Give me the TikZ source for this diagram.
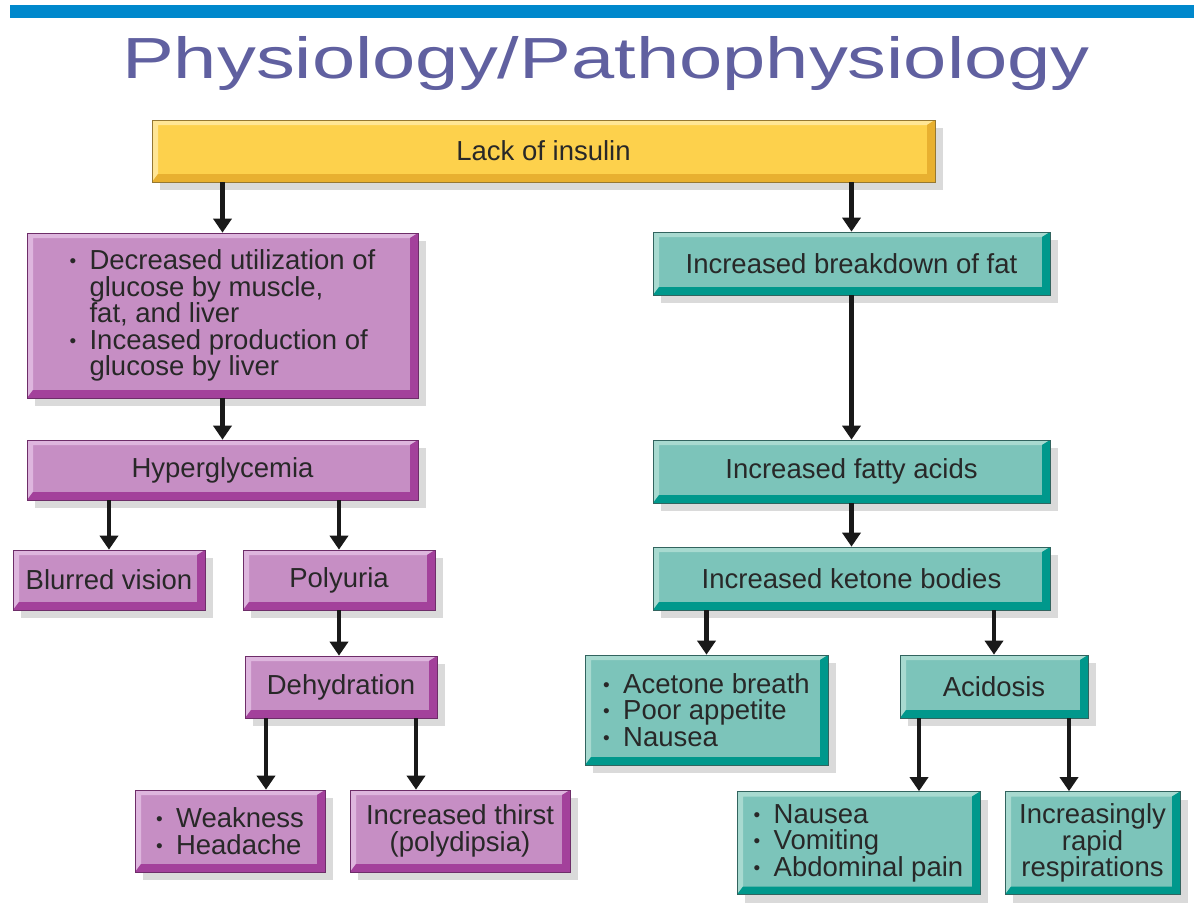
\documentclass[tikz,border=0pt]{standalone}
\usepackage{fontspec}
\setmainfont{Liberation Sans}
\usetikzlibrary{arrows.meta,shadows,calc}

\definecolor{barblue}{RGB}{0,136,204}
\definecolor{titleblue}{RGB}{96,96,160}
\definecolor{textgray}{RGB}{40,40,40}
\definecolor{shadowgray}{RGB}{218,218,218}
\definecolor{ymain}{RGB}{253,209,76}
\definecolor{ylight}{RGB}{255,230,150}
\definecolor{ydark}{RGB}{232,176,48}
\definecolor{yedge}{RGB}{150,120,50}
\definecolor{pmain}{RGB}{198,142,196}
\definecolor{plight}{RGB}{222,182,222}
\definecolor{pdark}{RGB}{163,65,155}
\definecolor{pedge}{RGB}{110,45,105}
\definecolor{tmain}{RGB}{124,196,186}
\definecolor{tlight}{RGB}{168,218,208}
\definecolor{tdark}{RGB}{0,152,140}
\definecolor{tedge}{RGB}{50,100,95}

\newcommand{\bul}{\makebox[20pt][l]{\raisebox{2pt}{\fontsize{19}{19}\selectfont•}}}
\newcommand{\ind}{\hspace*{20pt}}

\tikzset{
  bevel/.style n args={4}{
    draw=#4, line width=0.7pt, fill=#1, inner sep=0pt, text=textgray,
    font=\fontsize{27.5}{26.5}\selectfont,
    drop shadow={shadow xshift=8pt, shadow yshift=-8pt, fill=shadowgray, opacity=1},
    path picture={
      \coordinate (bsw) at (path picture bounding box.south west);
      \coordinate (bne) at (path picture bounding box.north east);
      \fill[#2] (bsw) -- (bsw |- bne) -- (bne) -- ($(bne)+(-8pt,-5pt)$)
        -- ($(bsw |- bne)+(6pt,-5pt)$) -- ($(bsw)+(6pt,8pt)$) -- cycle;
      \fill[#3] (bsw) -- (bne |- bsw) -- (bne) -- ($(bne)+(-8pt,-5pt)$)
        -- ($(bne |- bsw)+(-8pt,8pt)$) -- ($(bsw)+(6pt,8pt)$) -- cycle;
    }},
  yellowbox/.style={bevel={ymain}{ylight}{ydark}{yedge}},
  purplebox/.style={bevel={pmain}{plight}{pdark}{pedge}},
  tealbox/.style={bevel={tmain}{tlight}{tdark}{tedge}},
  arr/.style={line width=4.5pt, draw=black!90, -{Triangle[width=18pt,length=14pt]}}
}

\begin{document}
\begin{tikzpicture}[x=1pt,y=-1pt]
  \fill[white] (0,0) rectangle (1194,903);
  \useasboundingbox (0,0) rectangle (1194,903);
  \fill[barblue] (10,5) rectangle (1194,18);
  \node[font=\fontsize{58}{64}\selectfont, text=titleblue, anchor=base, inner sep=0pt] (title) at (606,78)
    {\scalebox{1.34}[1]{Physiology/Pathophysiology}};

  \node[yellowbox, minimum width=783pt, minimum height=62pt] (lack) at (543.5,151) {Lack of insulin};

  \node[purplebox, minimum width=391pt, minimum height=165pt, align=left] (glucose) at (222.5,315.5)
    {\bul Decreased utilization of\\\ind glucose by muscle,\\\ind fat, and liver\\\bul Inceased production of\\\ind glucose by liver};
  \node[purplebox, minimum width=391pt, minimum height=60pt] (hyper) at (222.5,470) {Hyperglycemia};
  \node[purplebox, minimum width=192pt, minimum height=60pt] (blur) at (109,580) {Blurred vision};
  \node[purplebox, minimum width=192pt, minimum height=60pt] (poly) at (339,580) {Polyuria};
  \node[purplebox, minimum width=192pt, minimum height=62pt] (dehyd) at (341,687) {Dehydration};
  \node[purplebox, minimum width=190pt, minimum height=82pt, align=left] (weak) at (230,831)
    {\bul Weakness\\\bul Headache};
  \node[purplebox, minimum width=220pt, minimum height=82pt, align=center] (thirst) at (460,831)
    {Increased thirst\\(polydipsia)};

  \node[tealbox, minimum width=397pt, minimum height=63pt] (fat) at (851.5,263.5) {Increased breakdown of fat};
  \node[tealbox, minimum width=397pt, minimum height=63pt] (acids) at (851.5,471.5) {Increased fatty acids};
  \node[tealbox, minimum width=397pt, minimum height=63pt] (ketone) at (851.5,578.5) {Increased ketone bodies};
  \node[tealbox, minimum width=243pt, minimum height=110pt, align=left] (acetone) at (706.5,710)
    {\bul Acetone breath\\\bul Poor appetite\\\bul Nausea};
  \node[tealbox, minimum width=188pt, minimum height=63pt] (acid) at (994,686.5) {Acidosis};
  \node[tealbox, minimum width=243pt, minimum height=103pt, align=left] (nausea) at (858.5,843)
    {\bul Nausea\\\bul Vomiting\\\bul Abdominal pain};
  \node[tealbox, minimum width=175pt, minimum height=103pt, align=center] (resp) at (1092.5,843)
    {Increasingly\\rapid\\respirations};

  \coordinate (d1) at ([xshift=-75pt]dehyd.south);
  \coordinate (d2) at ([xshift=75pt]dehyd.south);
  \coordinate (a1) at ([xshift=-75pt]acid.south);
  \coordinate (a2) at ([xshift=75pt]acid.south);

  \begin{scope}[arr]
    \draw (lack.south -| glucose.north) to (glucose.north);
    \draw (lack.south -| fat.north) to (fat.north);
    \draw (glucose.south) to (hyper.north);
    \draw (hyper.south -| blur.north) to (blur.north);
    \draw (hyper.south -| poly.north) to (poly.north);
    \draw (poly.south) to (poly.south |- dehyd.north);
    \draw (d1) to (d1 |- weak.north);
    \draw (d2) to (d2 |- thirst.north);
    \draw (fat.south) to (acids.north);
    \draw (acids.south) to (ketone.north);
    \draw (ketone.south -| acetone.north) to (acetone.north);
    \draw (ketone.south -| acid.north) to (acid.north);
    \draw (a1) to (a1 |- nausea.north);
    \draw (a2) to (a2 |- resp.north);
  \end{scope}
\end{tikzpicture}
\end{document}
